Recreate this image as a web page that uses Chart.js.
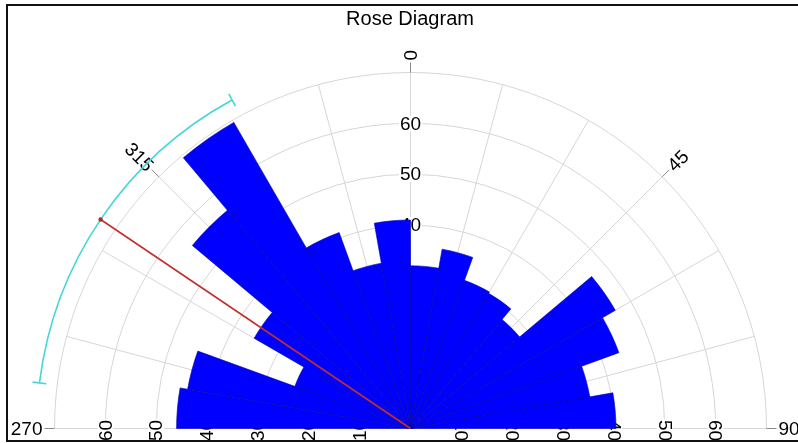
<!DOCTYPE html>
<html><head><meta charset="utf-8">
<script src="https://cdn.jsdelivr.net/npm/chart.js@4.4.1/dist/chart.umd.min.js"></script>
<style>html,body{margin:0;padding:0;background:#fff;}#wrap{position:relative;width:798px;height:443px;overflow:hidden;}</style>
</head><body><div id="wrap"><canvas id="c" width="798" height="443"></canvas></div>
<script>
// ---- data ----
const binStarts = [270,280,290,300,310,320,330,340,350,0,10,20,30,40,50,60,70,80];
const binValues = [46,44.5,24.2,35.5,56,69.5,41,33,41,32,35.8,31,30.7,28,46.5,43.6,35.8,40.4];
const binWidth = 10;
const rMax = 70;
const gridValues = [10,20,30,40,50,60,70];
const tickValues = [10,20,30,40,50,60];
const spokeAngles = [270,285,300,315,330,345,0,15,30,45,60,75,90];
const directionAngles = [270,315,0,45,90];
const directionLabels = ['270','315','0','45','90'];
const meanDirection = 304;
const confidenceLow = 277;
const confidenceHigh = 331.5;
const markerValue = 73.5;
const chartTitle = 'Rose Diagram';

const FONT = '19px "Liberation Sans", Arial, sans-serif';
function pt(sc, deg, r){const a=deg*Math.PI/180;return {x:sc.xCenter+r*Math.sin(a), y:sc.yCenter-r*Math.cos(a)};}
function cang(deg){return (deg-90)*Math.PI/180;}

const roseDecor = {
  id:'roseDecor',
  beforeDatasetsDraw(chart){
    const sc=chart.scales.r, ctx=chart.ctx, R=sc.drawingArea;
    ctx.save();
    ctx.strokeStyle='#d6d6d6'; ctx.lineWidth=1;
    gridValues.forEach(v=>{const r=sc.getDistanceFromCenterForValue(v);ctx.beginPath();ctx.arc(sc.xCenter,sc.yCenter,r,Math.PI,2*Math.PI);ctx.stroke();});
    spokeAngles.forEach(d=>{const p=pt(sc,d,R);ctx.beginPath();ctx.moveTo(sc.xCenter,sc.yCenter);ctx.lineTo(p.x,p.y);ctx.stroke();});
    ctx.font=FONT; ctx.textAlign='center'; ctx.textBaseline='middle';
    directionAngles.forEach((d,i)=>{
      const a=pt(sc,d,R), b=pt(sc,d,R+10);
      ctx.strokeStyle='#8a8a8a'; ctx.beginPath(); ctx.moveTo(a.x,a.y); ctx.lineTo(b.x,b.y); ctx.stroke();
      const txt=directionLabels[i]; const w=ctx.measureText(txt).width;
      const c=pt(sc,d,R+12+w/2);
      let rot=d-90; if(rot>90) rot-=180;
      ctx.save(); ctx.translate(c.x,c.y); ctx.rotate(rot*Math.PI/180);
      ctx.fillStyle='#000'; ctx.fillText(txt,0,1); ctx.restore();
    });
    tickValues.forEach(v=>{
      const r=sc.getDistanceFromCenterForValue(v); const txt=String(v); const w=ctx.measureText(txt).width;
      // vertical axis
      const x=sc.xCenter, y=sc.yCenter-r;
      ctx.fillStyle='#fff'; ctx.fillRect(x-w/2-1,y-8,w+2,16);
      ctx.fillStyle='#000'; ctx.fillText(txt,x,y+1);
      // bottom, both sides
      [-1,1].forEach(s=>{
        ctx.save(); ctx.translate(sc.xCenter+s*r, sc.yCenter+2); ctx.rotate(s*Math.PI/2);
        ctx.fillStyle='#fff'; ctx.fillRect(-w/2-1,-8,w+2,16);
        ctx.fillStyle='#000'; ctx.fillText(txt,0,1); ctx.restore();
      });
    });
    ctx.restore();
  },
  afterDatasetsDraw(chart){
    const sc=chart.scales.r, ctx=chart.ctx;
    const rm=sc.getDistanceFromCenterForValue(markerValue);
    ctx.save();
    ctx.strokeStyle='#45d6d6'; ctx.lineWidth=1.6;
    ctx.beginPath(); ctx.arc(sc.xCenter,sc.yCenter,rm,cang(confidenceLow),cang(confidenceHigh)); ctx.stroke();
    [confidenceLow,confidenceHigh].forEach(d=>{const a=pt(sc,d,rm-7),b=pt(sc,d,rm+7);ctx.beginPath();ctx.moveTo(a.x,a.y);ctx.lineTo(b.x,b.y);ctx.stroke();});
    const e=pt(sc,meanDirection,rm);
    ctx.strokeStyle='#c0302c'; ctx.lineWidth=1.6;
    ctx.beginPath(); ctx.moveTo(sc.xCenter,sc.yCenter); ctx.lineTo(e.x,e.y); ctx.stroke();
    ctx.fillStyle='#b02828'; ctx.beginPath(); ctx.arc(e.x,e.y,2.2,0,2*Math.PI); ctx.fill();
    ctx.restore();
  },
  afterDraw(chart){
    const ctx=chart.ctx; ctx.save(); ctx.fillStyle='#111';
    ctx.fillRect(6,4,792,2); ctx.fillRect(6,4,2,438); ctx.fillRect(6,440,792,2);
    ctx.restore();
  }
};

new Chart(document.getElementById('c'),{
  type:'polarArea',
  data:{labels:binStarts.map(String),datasets:[{data:binValues,backgroundColor:'#0000ff',borderColor:'#0000a8',borderWidth:0.6,angle:binWidth}]},
  options:{
    responsive:false, animation:false, devicePixelRatio:1, events:[],
    layout:{padding:{left:22}},
    plugins:{legend:{display:false},tooltip:{enabled:false},
      title:{display:true,text:chartTitle,color:'#000',font:{family:'"Liberation Sans", Arial, sans-serif',size:20,weight:'normal'},padding:{top:7,bottom:0}}},
    scales:{r:{min:0,max:rMax,startAngle:270,grid:{display:false},angleLines:{display:false},pointLabels:{display:false},ticks:{display:false},
      afterFit(s){s.xCenter=410.5;s.yCenter=428.5;s.drawingArea=356;}}}
  },
  plugins:[roseDecor]
});
</script></body></html>
